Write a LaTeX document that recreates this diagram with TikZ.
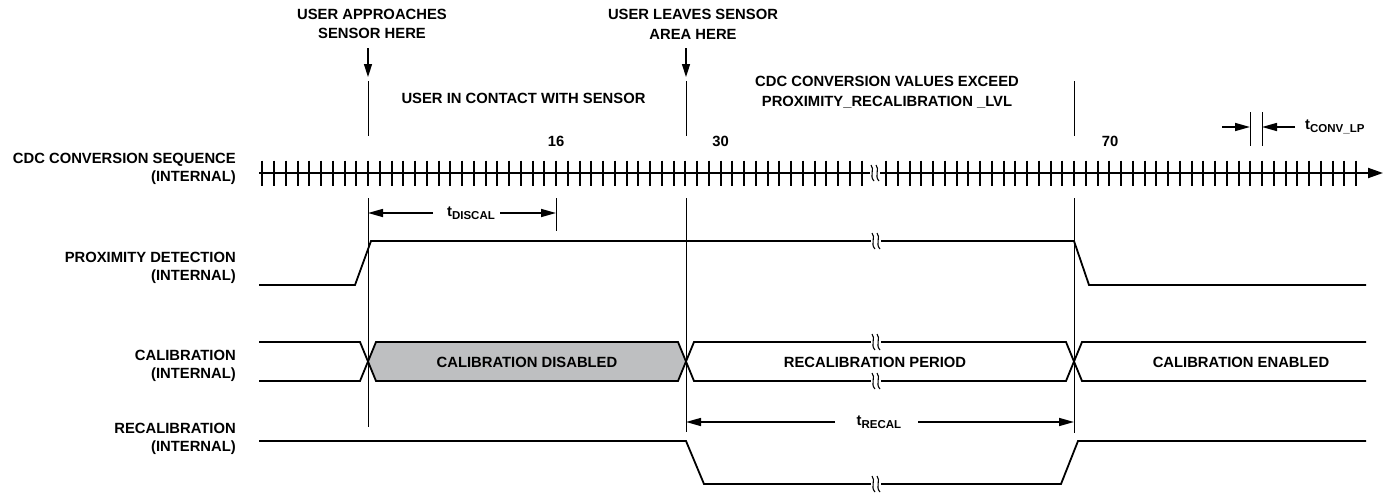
\documentclass[tikz,border=0pt]{standalone}
\usepackage{fontspec}
\setmainfont{Liberation Sans}
\usetikzlibrary{arrows.meta}
\definecolor{disgray}{RGB}{190,191,193}
\tikzset{
  sig/.style={line width=1.8pt, line join=miter},
  tick/.style={line width=2pt},
  guide/.style={line width=0.9pt},
  rowlbl/.style={font=\bfseries\fontsize{14.8}{18}\selectfont, align=right, anchor=east, inner sep=0pt},
  note/.style={font=\bfseries\fontsize{14.8}{19.5}\selectfont, align=center, inner sep=0pt},
  downarr/.style={-{Triangle[length=13pt,width=8pt]}, line width=1.5pt},
  dimarr/.style={-{Triangle[length=15pt,width=8pt]}, line width=1.5pt}
}
\newcommand{\tsub}[1]{t\raisebox{-3.5pt}{\fontsize{11.5}{12}\selectfont #1}}
\newcommand{\brkmark}[2]{%
  \fill[white] (#1-5,#2-4) rectangle (#1+5,#2+4);
  \draw[line width=1.1pt] (#1-4,#2-8) .. controls (#1,#2-4) and (#1-6,#2+3) .. (#1-1,#2+8);
  \draw[line width=1.1pt] (#1+1,#2-8) .. controls (#1+5,#2-4) and (#1-1,#2+3) .. (#1+4,#2+8);}

\begin{document}
\begin{tikzpicture}[x=1pt,y=-1pt]
\useasboundingbox (0,0) rectangle (1395,493);

\node[rowlbl] (seq) at (236,169) {CDC CONVERSION SEQUENCE\\(INTERNAL)};
\node[rowlbl] (prox) at (236,268) {PROXIMITY DETECTION\\(INTERNAL)};
\node[rowlbl] (cal) at (236,366) {CALIBRATION\\(INTERNAL)};
\node[rowlbl] (recal) at (236,439) {RECALIBRATION\\(INTERNAL)};

\node[note] (appr) at (372,24) {USER APPROACHES\\SENSOR HERE};
\node[note] (leave) at (693,24.5) {USER LEAVES SENSOR\\AREA HERE};
\node[note] (contact) at (523.5,98) {USER IN CONTACT WITH SENSOR};
\node[note] (exceed) at (887,92) {CDC CONVERSION VALUES EXCEED\\PROXIMITY\_RECALIBRATION \_LVL};
\node[note] (n16) at (556,141) {16};
\node[note] (n30) at (720.5,141) {30};
\node[note] (n70) at (1110,141) {70};

\draw[sig, line width=2pt, -{Triangle[length=15pt,width=10pt]}] (259,173) -- (1383,173);
\foreach \k in {0,...,51}{
  \pgfmathsetmacro{\tx}{round(262.25+\k*11.75)}
  \draw[tick] (\tx,160.5) -- ++(0,25.5);}
\foreach \k in {0,...,40}{
  \pgfmathsetmacro{\tx}{round(886+\k*11.75)}
  \draw[tick] (\tx,160.5) -- ++(0,25.5);}
\brkmark{875}{173}

\draw[downarr] (368,48) -- (368,77);
\draw[downarr] (686,48) -- (686,77);
\draw[guide] (368,81) -- (368,136);
\draw[guide] (686,81) -- (686,136);
\draw[guide] (1074,81) -- (1074,136);
\draw[guide] (368,198) -- (368,427);
\draw[guide] (686,198) -- (686,432);
\draw[guide] (1074,198) -- (1074,433);

\node[note] (discal) at (471,213) {\tsub{DISCAL}};
\draw[guide] (556,198) -- (556,231);
\draw[dimarr] (433,213) -- (368,213);
\draw[dimarr] (500,213) -- (556,213);

\node[note, anchor=west] (convlp) at (1305,127) {\tsub{CONV\_LP}};
\draw[guide] (1250,112) -- (1250,146);
\draw[guide] (1262,112) -- (1262,146);
\draw[dimarr] (1222,127) -- (1250,127);
\draw[dimarr] (convlp.west) ++(-10,0) -- (1262,127);

\draw[sig] (259,285) -- (355,285) -- (371,241) -- (1074,241) -- (1089,285) -- (1366,285);
\brkmark{876}{241}

\fill[disgray] (368,361.5) -- (376,342) -- (678,342) -- (686,361.5) -- (678,381) -- (376,381) -- cycle;
\draw[sig] (259,342) -- (360,342) -- (376,381) -- (678,381) -- (694,342) -- (1066,342) -- (1082,381) -- (1366,381);
\draw[sig] (259,381) -- (360,381) -- (376,342) -- (678,342) -- (694,381) -- (1066,381) -- (1082,342) -- (1366,342);
\brkmark{876}{342}
\brkmark{876}{381}
\node[note] (disabled) at (527,362) {CALIBRATION DISABLED};
\node[note] (period) at (875,362) {RECALIBRATION PERIOD};
\node[note] (enabled) at (1241,362) {CALIBRATION ENABLED};

\node[note] (trecal) at (879,422) {\tsub{RECAL}};
\draw[dimarr] (835,422) -- (686,422);
\draw[dimarr] (918,422) -- (1074,422);

\draw[sig] (259,441) -- (686,441) -- (704,484) -- (1061,484) -- (1078,441) -- (1366,441);
\brkmark{876}{484}

\end{tikzpicture}
\end{document}
